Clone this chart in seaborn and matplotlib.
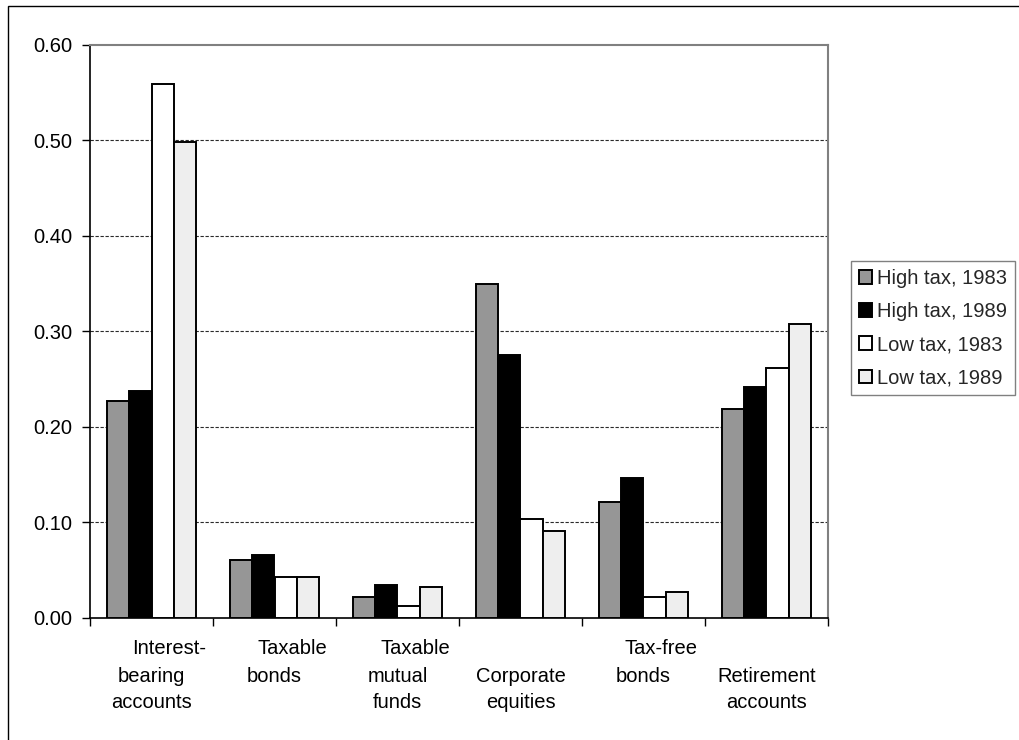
import numpy as np
import pandas as pd
import matplotlib
matplotlib.use("Agg")
import matplotlib.pyplot as plt
from matplotlib.patches import Patch, Rectangle
from matplotlib.ticker import FormatStrFormatter, FixedLocator, NullFormatter
import seaborn as sns

# Asset categories (line breaks as printed under the axis)
categories = [
    "Interest-\nbearing\naccounts",
    "Taxable\nbonds",
    "Taxable\nmutual\nfunds",
    "\nCorporate\nequities",
    "Tax-free\nbonds",
    "\nRetirement\naccounts",
]
series_names = ["High tax, 1983", "High tax, 1989", "Low tax, 1983", "Low tax, 1989"]

high_1983 = [0.227, 0.060, 0.022, 0.350, 0.121, 0.218]
high_1989 = [0.237, 0.066, 0.034, 0.275, 0.146, 0.242]
low_1983 = [0.559, 0.042, 0.012, 0.103, 0.022, 0.261]
low_1989 = [0.498, 0.042, 0.032, 0.091, 0.027, 0.308]

y_ticks = [0.0, 0.1, 0.2, 0.3, 0.4, 0.5, 0.6]

series_values = [high_1983, high_1989, low_1983, low_1989]
cat_keys = [c.replace("\n", " ").strip() for c in categories]
df = pd.DataFrame({
    "category": np.repeat([cat_keys], len(series_names), axis=0).ravel(),
    "series": np.repeat(series_names, len(categories)),
    "share": np.concatenate(series_values),
})

colors = ["#969696", "#000000", "#FFFFFF", "#EEEEEE"]

sns.set_theme(style="white")
plt.rcParams["font.family"] = ["Liberation Sans", "DejaVu Sans"]
FS = 14.5

fig = plt.figure(figsize=(10.2, 7.4), dpi=100)
fig.patch.set_facecolor("white")
ax = fig.add_axes([90 / 1020, 1 - 617.5 / 740, (828 - 90) / 1020, (617.5 - 45) / 740])

sns.barplot(
    data=df, x="category", y="share", hue="series", order=cat_keys,
    hue_order=series_names, palette=colors, width=0.728, dodge=True,
    edgecolor="black", linewidth=1.4, saturation=1, legend=False, ax=ax,
    errorbar=None, zorder=3,
)

ax.set_xlim(-0.5, len(categories) - 0.5)
ax.set_ylim(0, 0.6)
ax.set_xlabel("")
ax.set_ylabel("")

# horizontal gridlines
ax.yaxis.set_major_locator(FixedLocator(y_ticks))
ax.yaxis.set_major_formatter(FormatStrFormatter("%.2f"))
for v in y_ticks[1:-1]:
    ax.axhline(v, color="#2a2a2a", lw=0.8, ls=(0, (3, 1.5)), zorder=1)

ax.tick_params(axis="y", which="major", direction="out", length=6, width=1,
               color="black", labelsize=FS, pad=7, left=True, labelcolor="black")

# category boundary ticks on the x axis
ax.set_xticks([])
ax.xaxis.set_minor_locator(FixedLocator(np.arange(-0.5, len(categories), 1.0)))
ax.xaxis.set_minor_formatter(NullFormatter())
ax.tick_params(axis="x", which="minor", direction="out", length=6, width=1,
               color="black", bottom=True)

for side in ["left", "bottom"]:
    ax.spines[side].set_color("black")
    ax.spines[side].set_linewidth(1.2)
for side in ["top", "right"]:
    ax.spines[side].set_color("#808080")
    ax.spines[side].set_linewidth(1.5)
for s in ax.spines.values():
    s.set_visible(True)

# category labels, one line at a time
for i, label in enumerate(categories):
    for j, line in enumerate(label.split("\n")):
        if not line:
            continue
        dx = 18 if j == 0 else 0
        ax.annotate(line, xy=(i, 0), xycoords=("data", "axes fraction"),
                    xytext=(dx, -(31.5 + 27 * j)), textcoords="offset pixels",
                    ha="center", va="center", fontsize=FS, color="black",
                    annotation_clip=False)

handles = [Patch(facecolor=c, edgecolor="black", linewidth=1.4) for c in colors]
leg = ax.legend(
    handles, series_names, loc="upper left",
    bbox_to_anchor=(851 / 1020, 1 - 261 / 740), bbox_transform=fig.transFigure,
    borderaxespad=0, frameon=True, fancybox=False, fontsize=FS,
    handlelength=0.65, handleheight=0.65, handletextpad=0.25,
    labelspacing=0.7, borderpad=0.4,
)
leg.get_frame().set_edgecolor("#808080")
leg.get_frame().set_linewidth(1.0)
leg.get_frame().set_facecolor("white")
leg.get_frame().set_alpha(1)

# chart area border
fig.patches.append(Rectangle((8 / 1020, -0.1), 2.0, 1.1 - 6 / 740,
                             transform=fig.transFigure, fill=False,
                             edgecolor="black", linewidth=1.0))

fig.savefig("out.png", dpi=100, facecolor="white")
